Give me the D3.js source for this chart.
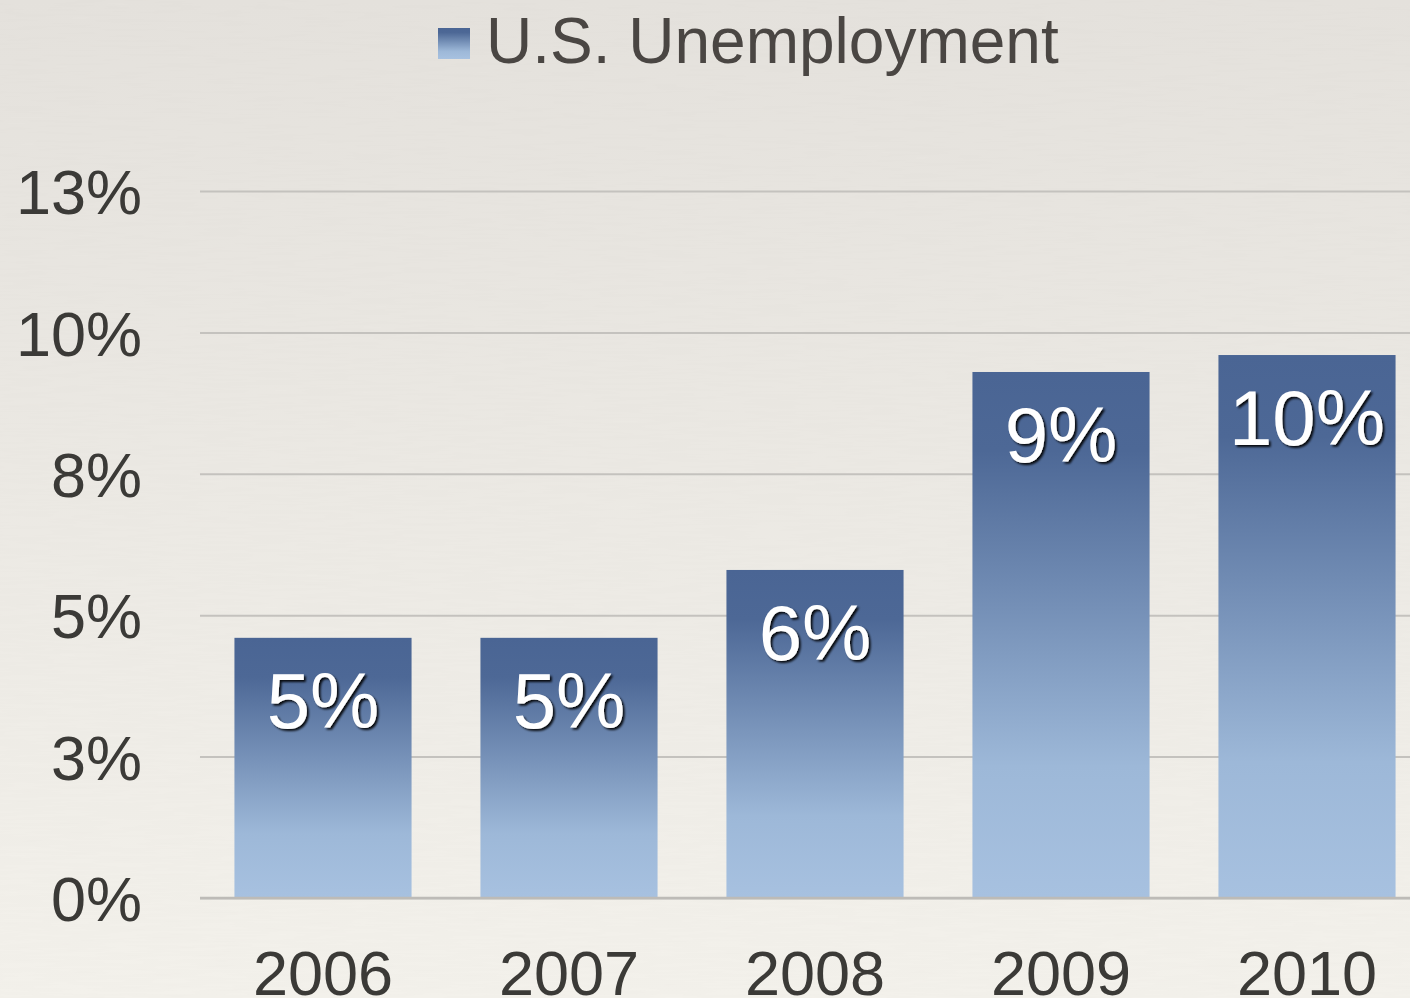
<!DOCTYPE html>
<html>
<head>
<meta charset="utf-8">
<script src="https://cdn.jsdelivr.net/npm/d3@7"></script>
<style>
  html, body { margin: 0; padding: 0; overflow: hidden; }
  svg { display: block; font-family: "Liberation Sans", Arial, sans-serif; }
</style>
</head>
<body>
<svg id="chart" width="1410" height="998"></svg>
<script>
const years = ["2006", "2007", "2008", "2009", "2010"];
const unemployment = [4.6, 4.6, 5.8, 9.3, 9.6];
const yTicks = [0, 2.5, 5, 7.5, 10, 12.5];
const seriesName = "U.S. Unemployment";

const data = years.map((y, i) => ({ year: y, value: unemployment[i] }));

const svg = d3.select("#chart");
const defs = svg.append("defs");

// paper background
const bg = defs.append("linearGradient").attr("id", "bg")
  .attr("x1", 0).attr("y1", 0).attr("x2", 0).attr("y2", 1);
bg.append("stop").attr("offset", "0%").attr("stop-color", "#e5e2dd");
bg.append("stop").attr("offset", "100%").attr("stop-color", "#f4f2ec");

// bar fill: dark at top, light blue over the lower part
const barGrad = defs.append("linearGradient").attr("id", "barGrad")
  .attr("x1", 0).attr("y1", 0).attr("x2", 0).attr("y2", 1);
barGrad.append("stop").attr("offset", "0%").attr("stop-color", "#4a6594");
barGrad.append("stop").attr("offset", "15%").attr("stop-color", "#4d6896");
barGrad.append("stop").attr("offset", "75%").attr("stop-color", "#9db8d8");
barGrad.append("stop").attr("offset", "100%").attr("stop-color", "#a7c1e0");

const noise = defs.append("filter").attr("id", "paper")
  .attr("x", 0).attr("y", 0).attr("width", "100%").attr("height", "100%");
noise.append("feTurbulence").attr("type", "fractalNoise")
  .attr("baseFrequency", "0.02 0.35").attr("numOctaves", 2).attr("result", "n");
noise.append("feColorMatrix").attr("in", "n").attr("type", "matrix")
  .attr("values", "0 0 0 0 0.5  0 0 0 0 0.48  0 0 0 0 0.45  0 0 0 0.06 0");

const shadow = defs.append("filter").attr("id", "shadow")
  .attr("x", "-20%").attr("y", "-20%").attr("width", "140%").attr("height", "140%");
shadow.append("feDropShadow").attr("dx", 2).attr("dy", 2)
  .attr("stdDeviation", 1).attr("flood-color", "#000").attr("flood-opacity", 0.9);

svg.append("rect").attr("width", 1410).attr("height", 998).attr("fill", "url(#bg)");
svg.append("rect").attr("width", 1410).attr("height", 998).attr("filter", "url(#paper)");

const x = d3.scaleBand()
  .domain(years)
  .range([200, 1430])
  .paddingInner(0.28)
  .paddingOuter(0.14);

const y = d3.scaleLinear()
  .domain([0, 12.5])
  .range([898, 191]);

// gridlines + y labels
const yAxis = svg.append("g")
  .attr("transform", "translate(200,0)")
  .call(d3.axisLeft(y).tickValues(yTicks)
    .tickSize(-1230)
    .tickPadding(58)
    .tickFormat(d => Math.round(d) + "%"));
yAxis.select(".domain").remove();
yAxis.selectAll(".tick line")
  .attr("stroke", "#c4c2be")
  .attr("stroke-width", 2);
yAxis.selectAll(".tick text")
  .attr("fill", "#3b3a37")
  .style("font-size", "63px")
  .attr("dy", "0.36em");

// bars
svg.append("g").selectAll("rect")
  .data(data)
  .join("rect")
  .attr("x", d => x(d.year))
  .attr("y", d => y(d.value))
  .attr("width", x.bandwidth())
  .attr("height", d => y(0) - y(d.value))
  .attr("fill", "url(#barGrad)");

// baseline
svg.append("line")
  .attr("x1", 200).attr("x2", 1410)
  .attr("y1", y(0)).attr("y2", y(0))
  .attr("stroke", "#bdbbb7").attr("stroke-width", 2.5);

// value labels
svg.append("g").selectAll("text")
  .data(data)
  .join("text")
  .attr("x", d => x(d.year) + x.bandwidth() / 2)
  .attr("y", d => y(d.value) + 90)
  .attr("text-anchor", "middle")
  .attr("fill", "#fff")
  .attr("filter", "url(#shadow)")
  .style("font-size", "78px")
  .text(d => Math.round(d.value) + "%");

// x labels (cut by the bottom edge, as in the original)
const xAxis = svg.append("g")
  .attr("transform", `translate(0,${y(0)})`)
  .call(d3.axisBottom(x).tickSize(0).tickPadding(0));
xAxis.select(".domain").remove();
xAxis.selectAll(".tick text")
  .attr("fill", "#3b3a37")
  .attr("dy", 0)
  .attr("y", 97)
  .style("font-size", "63px");

// legend
const legend = svg.append("g");
legend.append("rect")
  .attr("x", 438).attr("y", 28).attr("width", 32).attr("height", 31)
  .attr("fill", "url(#barGrad)");
legend.append("text")
  .attr("x", 486).attr("y", 63)
  .attr("fill", "#4a4643")
  .style("font-size", "64px")
  .text(seriesName);
</script>
</body>
</html>
